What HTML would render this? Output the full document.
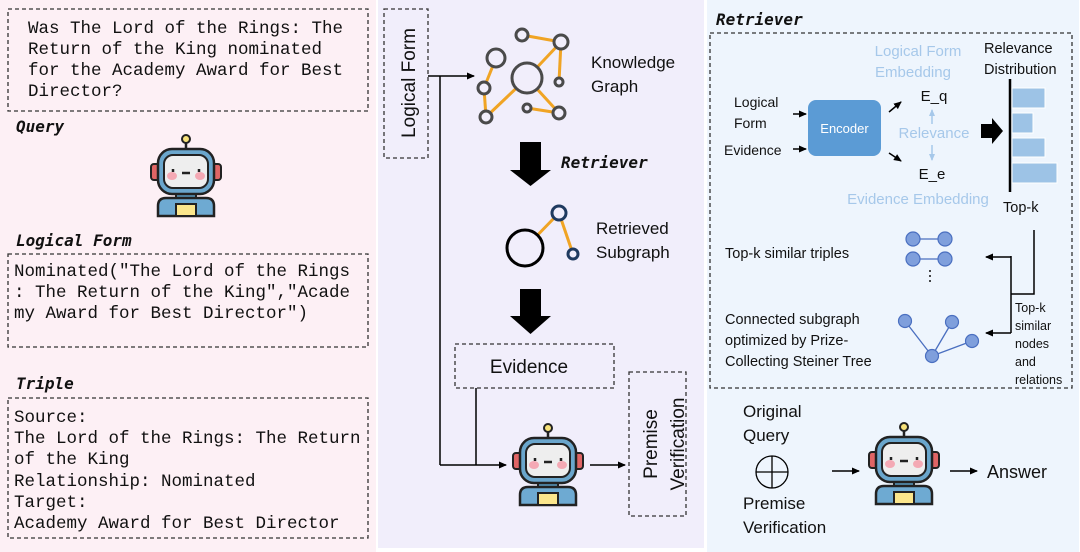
<!DOCTYPE html>
<html><head><meta charset="utf-8"><style>
body{margin:0;width:1080px;height:552px;overflow:hidden;background:#fff}
svg{display:block}
.m{font-family:"Liberation Mono","DejaVu Sans Mono",monospace;font-size:17.5px;fill:#111}
.s{font-family:"Liberation Sans","DejaVu Sans",sans-serif;fill:#111}
.bi{font-family:"DejaVu Sans Mono","Liberation Mono",monospace;font-weight:bold;font-style:italic;font-size:16px;fill:#111}
.lb{fill:#a6c8ea}
</style></head><body>
<svg width="1080" height="552" viewBox="0 0 1080 552" xmlns="http://www.w3.org/2000/svg">
<defs>
<marker id="ah" markerWidth="8" markerHeight="8" refX="7" refY="4" orient="auto" markerUnits="userSpaceOnUse"><path d="M0,0.5 L8,4 L0,7.5Z" fill="#000"/></marker>
<marker id="ahb" markerWidth="7" markerHeight="7" refX="6" refY="3.5" orient="auto" markerUnits="userSpaceOnUse"><path d="M0,0.5 L7,3.5 L0,6.5Z" fill="#a6c8ea"/></marker>
<g id="robot">
<line x1="36" y1="8" x2="36" y2="16" stroke="#222" stroke-width="2.5"/>
<circle cx="36" cy="5" r="4" fill="#f7e27a" stroke="#222" stroke-width="2"/>
<rect x="1" y="30" width="9" height="16" rx="3" fill="#e06565" stroke="#222" stroke-width="2"/>
<rect x="62" y="30" width="9" height="16" rx="3" fill="#e06565" stroke="#222" stroke-width="2"/>
<rect x="26" y="58" width="20" height="8" fill="#5b9ac0" stroke="#222" stroke-width="2"/>
<path d="M8,82 L8,72 Q8,64 16,64 L56,64 Q64,64 64,72 L64,82Z" fill="#6eaad2" stroke="#222" stroke-width="2.5"/>
<rect x="26" y="70" width="20" height="12" fill="#fbe68c" stroke="#222" stroke-width="2"/>
<rect x="8" y="15" width="56" height="45" rx="14" fill="#6aa6cc" stroke="#222" stroke-width="2.5"/>
<rect x="14" y="21" width="44" height="33" rx="9" fill="#eeeeee" stroke="#222" stroke-width="2"/>
<ellipse cx="22" cy="42" rx="5" ry="4" fill="#f4a9b4"/>
<ellipse cx="50" cy="42" rx="5" ry="4" fill="#f4a9b4"/>
<line x1="23" y1="35" x2="23" y2="38" stroke="#222" stroke-width="2.5"/>
<line x1="49" y1="35" x2="49" y2="38" stroke="#222" stroke-width="2.5"/>
<line x1="32" y1="39" x2="40" y2="39" stroke="#222" stroke-width="2.5"/>
</g>
</defs>
<rect x="0" y="0" width="376" height="552" fill="#fdf0f5"/>
<rect x="378" y="0" width="326" height="548" fill="#f1eefb"/>
<rect x="707" y="0" width="372" height="552" fill="#eef5fd"/>

<!-- left -->
<rect x="8" y="9" width="360" height="102" fill="none" stroke="#333" stroke-width="1.3" stroke-dasharray="4,3"/>
<text class="m" x="28" y="33">Was The Lord of the Rings: The</text>
<text class="m" x="28" y="54">Return of the King nominated</text>
<text class="m" x="28" y="75">for the Academy Award for Best</text>
<text class="m" x="28" y="96">Director?</text>
<text class="bi" x="16" y="132">Query</text>
<use href="#robot" x="150" y="134"/>
<text class="bi" x="16" y="246">Logical Form</text>
<rect x="8" y="254" width="360" height="93" fill="none" stroke="#333" stroke-width="1.3" stroke-dasharray="4,3"/>
<text class="m" x="14" y="276">Nominated("The Lord of the Rings</text>
<text class="m" x="14" y="297">: The Return of the King","Acade</text>
<text class="m" x="14" y="318">my Award for Best Director")</text>
<text class="bi" x="16" y="389">Triple</text>
<rect x="8" y="398" width="360" height="140" fill="none" stroke="#333" stroke-width="1.3" stroke-dasharray="4,3"/>
<text class="m" x="14" y="422">Source:</text>
<text class="m" x="14" y="443">The Lord of the Rings: The Return</text>
<text class="m" x="14" y="464">of the King</text>
<text class="m" x="14" y="486">Relationship: Nominated</text>
<text class="m" x="14" y="507">Target:</text>
<text class="m" x="14" y="528">Academy Award for Best Director</text>

<!-- middle -->
<rect x="384" y="9" width="44" height="149" fill="none" stroke="#333" stroke-width="1.3" stroke-dasharray="4,3"/>
<text class="s" font-size="19" transform="translate(415,83) rotate(-90)" text-anchor="middle">Logical Form</text>
<line x1="428" y1="76" x2="474" y2="76" stroke="#000" stroke-width="1.5" marker-end="url(#ah)"/>
<line x1="440" y1="76" x2="440" y2="465" stroke="#000" stroke-width="1.5"/>
<line x1="476" y1="388" x2="476" y2="465" stroke="#000" stroke-width="1.5"/>
<line x1="440" y1="465" x2="506" y2="465" stroke="#000" stroke-width="1.5" marker-end="url(#ah)"/>
<g stroke="#f0a424" stroke-width="3">
<line x1="522" y1="35" x2="561" y2="42"/><line x1="561" y1="42" x2="527" y2="78"/><line x1="561" y1="42" x2="559" y2="82"/>
<line x1="496" y1="58" x2="484" y2="88"/><line x1="484" y1="88" x2="486" y2="117"/><line x1="486" y1="117" x2="527" y2="78"/>
<line x1="527" y1="78" x2="559" y2="113"/><line x1="527" y1="108" x2="559" y2="113"/>
</g>
<g fill="#f1eefb" stroke="#4a4a4a" stroke-width="3">
<circle cx="527" cy="78" r="15"/><circle cx="522" cy="35" r="6"/><circle cx="561" cy="42" r="7"/><circle cx="496" cy="58" r="9"/>
<circle cx="484" cy="88" r="6"/><circle cx="486" cy="117" r="6"/><circle cx="527" cy="108" r="4"/><circle cx="559" cy="82" r="4"/><circle cx="559" cy="113" r="6"/>
</g>
<text class="s" font-size="17" x="591" y="68">Knowledge</text>
<text class="s" font-size="17" x="591" y="92">Graph</text>
<path d="M520,142 H541 V170 H551 L530.5,186 L510,170 H520Z" fill="#000"/>
<text class="bi" x="561" y="168">Retriever</text>
<g stroke="#f0a424" stroke-width="3"><line x1="525" y1="248" x2="559" y2="213"/><line x1="559" y1="213" x2="573" y2="254"/></g>
<circle cx="525" cy="248" r="18" fill="#f1eefb" stroke="#000" stroke-width="3"/>
<circle cx="559" cy="213" r="7" fill="#f1eefb" stroke="#1f3a5f" stroke-width="3"/>
<circle cx="573" cy="254" r="5" fill="#f1eefb" stroke="#1f3a5f" stroke-width="3"/>
<text class="s" font-size="17" x="596" y="234">Retrieved</text>
<text class="s" font-size="17" x="596" y="258">Subgraph</text>
<path d="M520,289 H541 V316 H551 L530.5,334 L510,316 H520Z" fill="#000"/>
<rect x="455" y="344" width="159" height="44" fill="none" stroke="#333" stroke-width="1.3" stroke-dasharray="4,3"/>
<text class="s" font-size="19" x="529" y="373" text-anchor="middle">Evidence</text>
<use href="#robot" x="512" y="423"/>
<line x1="590" y1="465" x2="625" y2="465" stroke="#000" stroke-width="1.5" marker-end="url(#ah)"/>
<rect x="629" y="372" width="57" height="144" fill="none" stroke="#333" stroke-width="1.3" stroke-dasharray="4,3"/>
<text class="s" font-size="19" transform="translate(657,444) rotate(-90)" text-anchor="middle">Premise</text>
<text class="s" font-size="19" transform="translate(684,444) rotate(-90)" text-anchor="middle">Verification</text>

<!-- right -->
<text class="bi" x="716" y="25">Retriever</text>
<rect x="710" y="33" width="362" height="355" fill="none" stroke="#333" stroke-width="1.3" stroke-dasharray="4,3"/>
<text class="s lb" font-size="15" x="918" y="56" text-anchor="middle">Logical Form</text>
<text class="s lb" font-size="15" x="913" y="77" text-anchor="middle">Embedding</text>
<text class="s" font-size="15" x="934" y="101" text-anchor="middle">E_q</text>
<text class="s lb" font-size="15" x="934" y="138" text-anchor="middle">Relevance</text>
<text class="s" font-size="15" x="932" y="179" text-anchor="middle">E_e</text>
<text class="s lb" font-size="15" x="918" y="204" text-anchor="middle">Evidence Embedding</text>
<line x1="932" y1="124" x2="932" y2="110" stroke="#a6c8ea" stroke-width="1.5" marker-end="url(#ahb)"/>
<line x1="932" y1="145" x2="932" y2="160" stroke="#a6c8ea" stroke-width="1.5" marker-end="url(#ahb)"/>
<rect x="808" y="100" width="73" height="56" rx="8" fill="#5b9bd5"/>
<text font-family="Liberation Sans,sans-serif" font-size="13" fill="#fff" x="844.5" y="133" text-anchor="middle">Encoder</text>
<text class="s" font-size="14" x="734" y="107">Logical</text>
<text class="s" font-size="14" x="734" y="128">Form</text>
<text class="s" font-size="14" x="724" y="155">Evidence</text>
<line x1="793" y1="114" x2="806" y2="114" stroke="#000" stroke-width="1.5" marker-end="url(#ah)"/>
<line x1="793" y1="149" x2="806" y2="149" stroke="#000" stroke-width="1.5" marker-end="url(#ah)"/>
<line x1="889" y1="112" x2="901" y2="102" stroke="#000" stroke-width="1.5" marker-end="url(#ah)"/>
<line x1="889" y1="153" x2="901" y2="161" stroke="#000" stroke-width="1.5" marker-end="url(#ah)"/>
<text class="s" font-size="14.5" x="984" y="53">Relevance</text>
<text class="s" font-size="14.5" x="984" y="74">Distribution</text>
<path d="M981,124 H992 V118 L1003,131 L992,144 V138 H981Z" fill="#000"/>
<line x1="1010" y1="79" x2="1010" y2="192" stroke="#000" stroke-width="2.5"/>
<g fill="#9dc3e6" stroke="#fff" stroke-width="1"><rect x="1012" y="88" width="33" height="20"/><rect x="1012" y="113" width="21" height="20"/><rect x="1012" y="138" width="33" height="19"/><rect x="1012" y="163" width="45" height="20"/></g>
<text class="s" font-size="14.5" x="1003" y="212">Top-k</text>
<polyline points="1034,230 1034,294 1011,294" fill="none" stroke="#000" stroke-width="1.5"/>
<line x1="1011" y1="256" x2="1011" y2="333" stroke="#000" stroke-width="1.5"/>
<line x1="1011" y1="257" x2="986" y2="257" stroke="#000" stroke-width="1.5" marker-end="url(#ah)"/>
<line x1="1011" y1="333" x2="986" y2="333" stroke="#000" stroke-width="1.5" marker-end="url(#ah)"/>
<g class="s" font-size="12.5"><text x="1015" y="312">Top-k</text><text x="1015" y="330">similar</text><text x="1015" y="348">nodes</text><text x="1015" y="366">and</text><text x="1015" y="384">relations</text></g>
<g stroke="#4a6fc0" stroke-width="1.3"><line x1="913" y1="239" x2="945" y2="239"/><line x1="913" y1="259" x2="945" y2="259"/>
<line x1="932" y1="356" x2="905" y2="321"/><line x1="932" y1="356" x2="952" y2="322"/><line x1="932" y1="356" x2="972" y2="341"/></g>
<g fill="#7f9fdc" stroke="#4a6fc0" stroke-width="1.2">
<circle cx="913" cy="239" r="7"/><circle cx="945" cy="239" r="7"/><circle cx="913" cy="259" r="7"/><circle cx="945" cy="259" r="7"/>
<circle cx="905" cy="321" r="6.5"/><circle cx="952" cy="322" r="6.5"/><circle cx="972" cy="341" r="6.5"/><circle cx="932" cy="356" r="6.5"/></g>
<g fill="#111"><circle cx="930" cy="271" r="1"/><circle cx="930" cy="276" r="1"/><circle cx="930" cy="281" r="1"/></g>
<text class="s" font-size="14.5" x="725" y="258">Top-k similar triples</text>
<text class="s" font-size="14.5" x="725" y="324">Connected subgraph</text>
<text class="s" font-size="14.5" x="725" y="345">optimized by Prize-</text>
<text class="s" font-size="14.5" x="725" y="366">Collecting Steiner Tree</text>
<text class="s" font-size="17" x="743" y="417">Original</text>
<text class="s" font-size="17" x="743" y="441">Query</text>
<circle cx="772" cy="472" r="16" fill="none" stroke="#000" stroke-width="1.3"/>
<line x1="756" y1="472" x2="788" y2="472" stroke="#000" stroke-width="1.3"/><line x1="772" y1="456" x2="772" y2="488" stroke="#000" stroke-width="1.3"/>
<text class="s" font-size="17" x="743" y="509">Premise</text>
<text class="s" font-size="17" x="743" y="533">Verification</text>
<line x1="832" y1="471" x2="859" y2="471" stroke="#000" stroke-width="1.5" marker-end="url(#ah)"/>
<use href="#robot" x="868" y="422"/>
<line x1="950" y1="471" x2="977" y2="471" stroke="#000" stroke-width="1.5" marker-end="url(#ah)"/>
<text class="s" font-size="18" x="987" y="478">Answer</text>
</svg>
</body></html>
